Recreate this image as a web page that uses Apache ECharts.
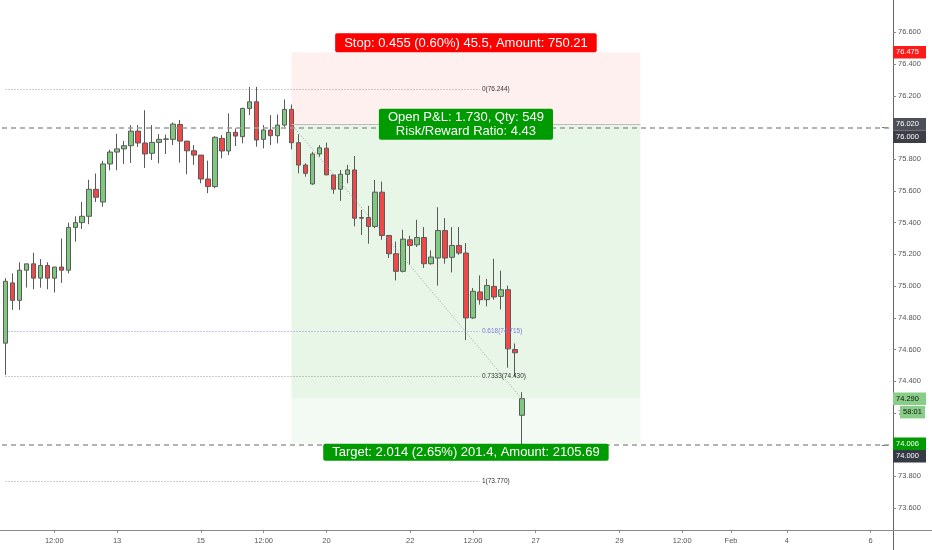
<!DOCTYPE html>
<html><head><meta charset="utf-8">
<script src="https://cdn.jsdelivr.net/npm/echarts@6/dist/echarts.min.js"></script>
<style>html,body{margin:0;padding:0;background:#fff;}#c{width:932px;height:550px;}</style>
</head><body><div id="c"></div>
<script>
// ---- time slots (4h candles) ----
const days = ['01-08','01-11','01-12','01-13','01-14','01-15','01-18','01-19','01-20','01-21','01-22',
  '01-25','01-26','01-27','01-28','01-29','02-01','02-02','02-03','02-04','02-05','02-06'];
const hours = ['00:00','04:00','08:00','12:00','16:00','20:00'];
const categories = days.flatMap(d => hours.map(h => d + ' ' + h)).slice(2, 130);

// ---- x tick labels ----
const tickSlots = ['01-11 12:00','01-13 00:00','01-15 00:00','01-18 12:00','01-20 00:00','01-22 00:00',
  '01-25 12:00','01-27 00:00','01-29 00:00','02-01 12:00','02-02 16:00','02-04 00:00','02-06 00:00'];
const tickTexts = ['12:00','13','15','12:00','20','22','12:00','27','29','12:00','Feb','4','6'];

// ---- OHLC ----
const opens = [74.64,75.02,74.91,75.10,75.14,75.05,75.13,75.05,75.12,75.10,
  75.37,75.40,75.44,75.61,75.53,75.77,75.845,75.865,75.885,75.977,
  75.902,75.837,75.906,75.925,75.925,76.019,75.914,75.853,75.826,75.675,
  75.627,75.931,75.852,75.969,75.942,76.120,76.162,75.925,75.984,75.948,
  76.015,76.114,75.904,75.763,75.644,75.833,75.869,75.701,75.611,75.705,
  75.732,75.432,75.432,75.376,75.592,75.319,75.204,75.093,75.292,75.260,
  75.306,75.141,75.177,75.350,75.181,75.256,75.208,74.799,74.963,74.914,
  74.998,74.935,74.977,74.600,74.185];
const closes = [75.03,74.91,75.10,75.14,75.05,75.13,75.05,75.12,75.10,75.37,
  75.40,75.44,75.61,75.56,75.77,75.845,75.865,75.885,75.977,75.902,
  75.833,75.906,75.925,75.928,76.021,75.914,75.853,75.826,75.675,75.627,
  75.938,75.852,75.969,75.946,76.120,76.162,75.921,75.984,75.948,76.015,
  76.114,75.904,75.763,75.711,75.833,75.872,75.701,75.611,75.705,75.732,
  75.428,75.428,75.376,75.592,75.319,75.204,75.093,75.296,75.256,75.306,
  75.141,75.183,75.350,75.177,75.256,75.208,74.799,74.967,74.914,75.004,
  74.931,74.977,74.604,74.579,74.290];
const lows = [74.44,74.85,74.85,74.99,74.98,74.99,74.98,74.96,75.02,75.08,
  75.28,75.36,75.39,75.53,75.50,75.73,75.73,75.77,75.776,75.877,
  75.745,75.795,75.774,75.833,75.889,75.778,75.705,75.764,75.648,75.586,
  75.617,75.806,75.826,75.883,75.900,76.078,75.879,75.868,75.889,75.900,
  76.004,75.862,75.711,75.690,75.638,75.816,75.700,75.581,75.537,75.648,
  75.376,75.322,75.267,75.365,75.292,75.177,75.036,75.086,75.135,75.246,
  75.114,75.135,75.003,75.141,75.086,75.197,74.659,74.793,74.883,74.872,
  74.914,74.852,74.485,74.432,74.000];
const highs = [75.05,75.08,75.15,75.14,75.21,75.17,75.15,75.12,75.30,75.40,
  75.44,75.53,75.67,75.71,75.79,75.86,75.96,75.915,76.015,76.015,
  76.109,76.015,75.958,75.955,76.032,76.047,75.914,75.889,75.826,75.791,
  75.945,75.952,76.089,75.994,76.125,76.256,76.256,76.015,76.078,76.082,
  76.177,76.145,75.957,75.774,75.847,75.889,75.904,75.701,75.732,75.764,
  75.820,75.480,75.506,75.669,75.659,75.319,75.281,75.355,75.317,75.418,
  75.372,75.225,75.497,75.428,75.372,75.372,75.271,74.988,75.067,75.045,
  75.172,75.097,75.003,74.638,74.331];

// ---- position tool ----
const stopPrice = 76.475, entryPrice = 76.020, targetPrice = 74.006, lastPrice = 74.290;
const entrySlot = '01-19 04:00', zoneEndSlot = '01-29 12:00', lastSlot = '01-26 16:00';
const stopText = 'Stop: 0.455 (0.60%) 45.5, Amount: 750.21';
const pnlText = 'Open P&L: 1.730, Qty: 549\nRisk/Reward Ratio: 4.43';
const targetText = 'Target: 2.014 (2.65%) 201.4, Amount: 2105.69';
const countdownText = '58:01';

// ---- horizontal lines ----
const hLinePrices = [76.000, 74.000];

// ---- fib retracement ----
const fibLevels = ['0','0.618','0.7333','1'];
const fibPrices = [76.244, 74.715, 74.430, 73.770];
const fibColors = ['#9a9a9a','#8a8ae0','#9a9a9a','#9a9a9a'];
const fibTextColors = ['#333','#7c7cd8','#333','#333'];
const fibEndSlot = '01-25 16:00';

const FONT = '"Liberation Sans Narrow","Liberation Sans",Arial,sans-serif';
const chart = echarts.init(document.getElementById('c'));

const candleData = opens.map((o, i) => [o, closes[i], lows[i], highs[i]]);
const isTick = (idx) => tickSlots.indexOf(categories[idx]) >= 0;

const markLines = [];
hLinePrices.forEach(p => markLines.push({yAxis: p, lineStyle: {type: [5, 4], color: '#9a9a9a', width: 1.5}, label: {show: false}}));
fibPrices.forEach((p, k) => markLines.push([
  {coord: [categories[0], p], lineStyle: {type: [1, 2], color: fibColors[k], width: 1},
   label: {show: true, position: 'end', distance: 2, formatter: fibLevels[k] + '(' + p.toFixed(3) + ')',
           fontSize: 6.5, color: fibTextColors[k], fontFamily: FONT}},
  {coord: [fibEndSlot, p]}
]));
markLines.push([{coord: [entrySlot, entryPrice], lineStyle: {type: 'solid', color: '#bdbdbd', width: 1}, label: {show: false}},
                {coord: [zoneEndSlot, entryPrice]}]);
markLines.push([{coord: [entrySlot, entryPrice], lineStyle: {type: [1, 2], color: '#9a9a9a', width: 1}, label: {show: false}},
                {coord: [lastSlot, lastPrice]}]);

chart.setOption({
  animation: false,
  backgroundColor: '#ffffff',
  textStyle: {fontFamily: FONT},
  grid: {left: 2, right: 37, top: 0.6, bottom: 10.2},
  xAxis: {
    type: 'category', data: categories, boundaryGap: true, offset: -10,
    axisLine: {show: false},
    axisTick: {show: true, alignWithLabel: true, interval: isTick, length: 3, lineStyle: {color: '#888'}},
    axisLabel: {interval: isTick, color: '#555', fontSize: 7.5, margin: 7,
      formatter: (v) => { const k = tickSlots.indexOf(v); return k >= 0 ? tickTexts[k] : ''; }},
    splitLine: {show: false}
  },
  yAxis: {
    type: 'value', position: 'right', offset: -2, min: 73.4, max: 76.8, interval: 0.2,
    axisLine: {show: false},
    axisTick: {show: true, length: 3, lineStyle: {color: '#888'}},
    axisLabel: {color: '#555', fontSize: 7.5, margin: 5, showMinLabel: false, showMaxLabel: false,
      formatter: (v) => v.toFixed(3)},
    splitLine: {show: false}
  },
  series: [{
    type: 'candlestick', data: candleData, barWidth: 5, silent: true,
    itemStyle: {color: '#7fc97f', color0: '#f04848', borderColor: '#5a5a5a', borderColor0: '#5a5a5a', borderWidth: 1},
    markArea: {silent: true, data: [
      [{coord: [entrySlot, stopPrice], itemStyle: {color: '#fff0f0'}}, {coord: [zoneEndSlot, entryPrice]}],
      [{coord: [entrySlot, entryPrice], itemStyle: {color: '#e8f6e8'}}, {coord: [zoneEndSlot, lastPrice]}],
      [{coord: [entrySlot, lastPrice], itemStyle: {color: '#f3faf3'}}, {coord: [zoneEndSlot, targetPrice]}]
    ]},
    markLine: {silent: true, symbol: ['none', 'none'], data: markLines}
  }]
});

// ---- overlay labels placed through the chart's own scales ----
const px = (slot, p) => chart.convertToPixel({seriesIndex: 0}, [slot, p]);
const yOf = (p) => chart.convertToPixel({yAxisIndex: 0}, p);
const xL = px(entrySlot, entryPrice)[0], xR = px(zoneEndSlot, entryPrice)[0];
const cx = (xL + xR) / 2;
const axisX = 893.5, W = 932, H = 550, axisY = 530.5;
const g = [];
g.push({type: 'line', silent: true, shape: {x1: axisX, y1: 0, x2: axisX, y2: H}, style: {stroke: '#666', lineWidth: 1}});
g.push({type: 'line', silent: true, shape: {x1: 0, y1: axisY, x2: W, y2: axisY}, style: {stroke: '#888', lineWidth: 1}});
hLinePrices.forEach(p => { const y = Math.round(yOf(p)) + 0.5;
  g.push({type: 'line', silent: true, shape: {x1: 882, y1: y, x2: 888, y2: y}, style: {stroke: '#777', lineWidth: 1}}); });

function box(text, x, y, va, bg, pad) {
  return {type: 'text', silent: true, x: x, y: y, z: 20,
    style: {text: text, fill: '#fff', font: '13px ' + FONT, align: 'center', verticalAlign: va,
      backgroundColor: bg, padding: pad, borderRadius: 2, lineHeight: 14}};
}
g.push(box(stopText, cx, yOf(stopPrice), 'bottom', '#ff0000', [3, 9, 2, 9]));
g.push(box(pnlText, cx, yOf(entryPrice), 'middle', '#009b00', [2, 9, 1, 9]));
g.push(box(targetText, cx, yOf(targetPrice), 'top', '#009b00', [2, 9, 1, 9]));

// price tags on the axis
const tags = [
  {p: stopPrice, bg: '#ff1a1a', fg: '#fff', t: stopPrice.toFixed(3)},
  {p: entryPrice, bg: '#4d5058', fg: '#fff', t: entryPrice.toFixed(3)},
  {p: hLinePrices[0], bg: '#3c3f47', fg: '#fff', t: hLinePrices[0].toFixed(3)},
  {p: lastPrice, bg: '#88cd88', fg: '#111', t: lastPrice.toFixed(3), cd: true},
  {p: targetPrice, bg: '#009b00', fg: '#fff', t: targetPrice.toFixed(3)},
  {p: hLinePrices[1], bg: '#363a45', fg: '#fff', t: hLinePrices[1].toFixed(3)}
];
const TH = 12.5;
let prevBottom = -1e9;
tags.map(o => Object.assign(o, {y: yOf(o.p)})).sort((a, b) => a.y - b.y).forEach(o => {
  let top = o.y - TH / 2;
  if (top < prevBottom) top = prevBottom;
  g.push({type: 'rect', silent: true, z: 21, shape: {x: 893, y: top, width: 33, height: TH}, style: {fill: o.bg}});
  g.push({type: 'text', silent: true, z: 22, x: 896, y: top + TH / 2,
    style: {text: o.t, fill: o.fg, font: '7.5px ' + FONT, align: 'left', verticalAlign: 'middle'}});
  prevBottom = top + TH;
  if (o.cd) {
    g.push({type: 'rect', silent: true, z: 21, shape: {x: 900, y: prevBottom + 1, width: 25, height: TH}, style: {fill: o.bg}});
    g.push({type: 'text', silent: true, z: 22, x: 912.5, y: prevBottom + 1 + TH / 2,
      style: {text: countdownText, fill: o.fg, font: '7.5px ' + FONT, align: 'center', verticalAlign: 'middle'}});
    prevBottom += TH + 1;
  }
});
chart.setOption({graphic: g});
</script></body></html>
